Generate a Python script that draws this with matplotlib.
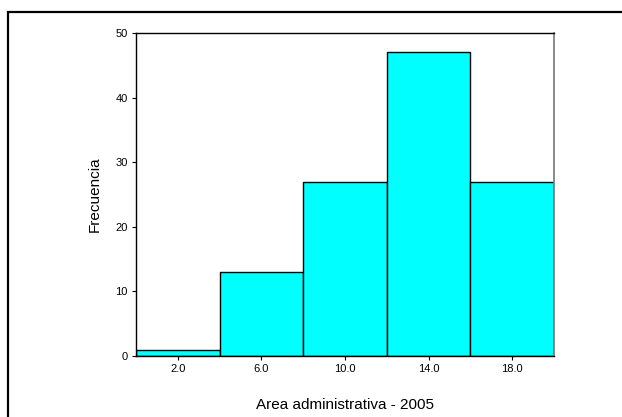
import matplotlib
matplotlib.use("Agg")
import matplotlib.pyplot as plt
from matplotlib.patches import Rectangle

# histogram data
centers = [2.0, 6.0, 10.0, 14.0, 18.0]
counts = [1, 13, 27, 47, 27]
bin_width = 4.0
tick_labels = ["2.0", "6.0", "10.0", "14.0", "18.0"]
y_ticks = [0, 10, 20, 30, 40, 50]

plt.rcParams['font.family'] = ['Liberation Sans', 'DejaVu Sans']

fig = plt.figure(figsize=(6.22, 4.17), dpi=100)
ax = fig.add_axes([136/622, 1 - 356/417, (554 - 136)/622, (356 - 33)/417])

ax.bar(centers, counts, width=bin_width, color="#00FFFF",
       edgecolor="black", linewidth=1.0)

ax.set_xlim(0, 20)
ax.set_ylim(0, 50)
ax.set_xticks(centers)
ax.set_xticklabels(tick_labels)
ax.set_yticks(y_ticks)
ax.tick_params(axis="both", labelsize=8, length=3, width=0.8, direction="out", pad=3)

for s in ["left", "bottom", "top"]:
    ax.spines[s].set_color("black")
    ax.spines[s].set_linewidth(1.0)
ax.spines["right"].set_color("#777777")
ax.spines["right"].set_linewidth(1.2)

ax.set_ylabel("Frecuencia", fontsize=11, labelpad=10)
ax.set_xlabel("Area administrativa - 2005", fontsize=11, labelpad=17)

# outer frame, cut off on the right and bottom
frame = Rectangle((8/622, -0.1), 1.2, 1 - 12/417 + 0.1, transform=fig.transFigure,
                  fill=False, edgecolor="black", linewidth=1.6)
fig.patches.append(frame)

fig.savefig("out.png", dpi=100)
